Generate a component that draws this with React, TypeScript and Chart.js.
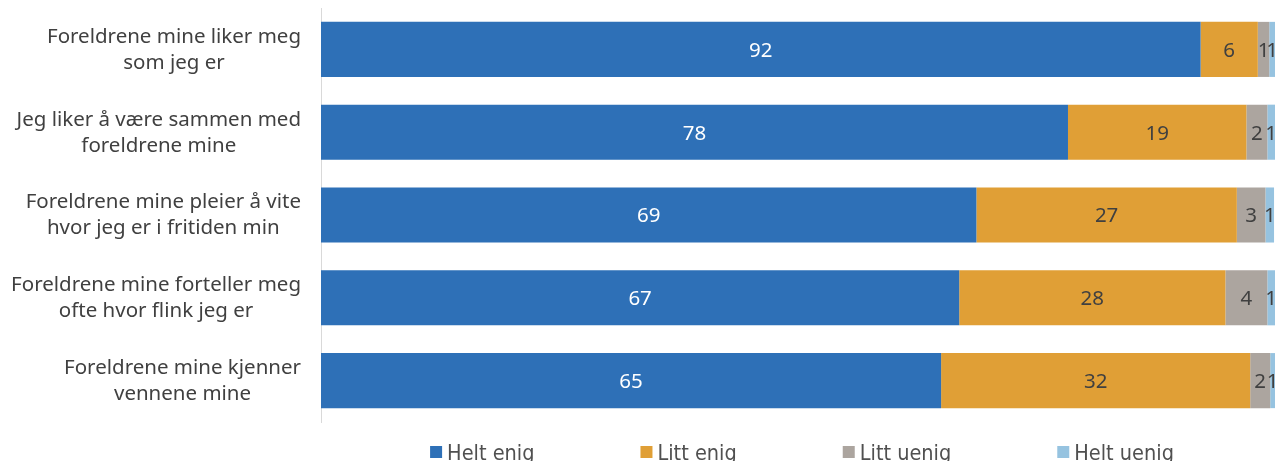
import { useEffect, useRef } from "react";
import { Chart, registerables } from "chart.js";

Chart.register(...registerables);

const categories: string[][] = [
  ["Foreldrene mine liker meg", "som jeg er"],
  ["Jeg liker å være sammen med", "foreldrene mine"],
  ["Foreldrene mine pleier å vite", "hvor jeg er i fritiden min"],
  ["Foreldrene mine forteller meg", "ofte hvor flink jeg er"],
  ["Foreldrene mine kjenner", "vennene mine"],
];
const seriesNames = ["Helt enig", "Litt enig", "Litt uenig", "Helt uenig"];
const heltEnig = [92.2, 78.3, 68.7, 66.9, 65.0];
const littEnig = [6.0, 18.7, 27.3, 27.9, 32.4];
const littUenig = [1.2, 2.2, 3.0, 4.4, 2.1];
const heltUenig = [0.6, 0.8, 0.9, 0.8, 0.5];
const seriesColors = ["#2e70b7", "#e09f36", "#aca59f", "#96c3e0"];
const labelColors = ["#ffffff", "#404040", "#404040", "#404040"];

const LABEL_FONT = '20.5px "Noto Sans", sans-serif';
const VALUE_FONT = '20.5px "Noto Sans", sans-serif';
const LEGEND_FONT = '21.5px "Liberation Sans Narrow", "DejaVu Sans Condensed", sans-serif';

const categoryLabelsPlugin = {
  id: "categoryLabels",
  afterDraw(chart: any) {
    const ctx = chart.ctx;
    const yScale = chart.scales.y;
    const right = chart.chartArea.left - 20;
    ctx.save();
    ctx.font = LABEL_FONT;
    ctx.fillStyle = "#404040";
    ctx.textBaseline = "middle";
    ctx.textAlign = "center";
    const lh = 26;
    categories.forEach((lines, i) => {
      const cy = yScale.getPixelForValue(i) + 0.5;
      const widest = Math.max(...lines.map((l) => ctx.measureText(l).width));
      const cx = right - widest / 2;
      lines.forEach((l, j) => {
        ctx.fillText(l, cx, cy + (j - (lines.length - 1) / 2) * lh);
      });
    });
    ctx.restore();
  },
};

const valueLabelsPlugin = {
  id: "valueLabels",
  afterDatasetsDraw(chart: any) {
    const ctx = chart.ctx;
    ctx.save();
    ctx.font = VALUE_FONT;
    ctx.textBaseline = "middle";
    ctx.textAlign = "center";
    chart.data.datasets.forEach((ds: any, di: number) => {
      const meta = chart.getDatasetMeta(di);
      ctx.fillStyle = labelColors[di];
      meta.data.forEach((el: any, i: number) => {
        const v = ds.data[i];
        const { x, base, y } = el.getProps(["x", "base", "y"], true);
        ctx.fillText(String(Math.round(v)), (x + base) / 2, y + 1.5);
      });
    });
    ctx.restore();
  },
};

const legendPlugin = {
  id: "customLegend",
  afterDraw(chart: any) {
    const ctx = chart.ctx;
    const area = chart.chartArea;
    const box = 12;
    const boxGap = 5;
    const itemGap = 106;
    ctx.save();
    ctx.font = LEGEND_FONT;
    ctx.textBaseline = "alphabetic";
    ctx.textAlign = "left";
    const widths = seriesNames.map((n) => box + boxGap + ctx.measureText(n).width);
    const total = widths.reduce((a, b) => a + b, 0) + itemGap * (seriesNames.length - 1);
    let x = (area.left + area.right) / 2 + 4 - total / 2;
    const cy = 452;
    seriesNames.forEach((n, i) => {
      ctx.fillStyle = seriesColors[i];
      ctx.fillRect(x, cy - box / 2, box, box);
      ctx.fillStyle = "#505050";
      ctx.fillText(n, x + box + boxGap, cy + 8);
      x += widths[i] + itemGap;
    });
    ctx.restore();
  },
};

export default function App() {
  const ref = useRef<HTMLCanvasElement | null>(null);
  useEffect(() => {
    document.body.style.margin = "0";
    if (!ref.current) return;
    const seriesData = [heltEnig, littEnig, littUenig, heltUenig];
    const chart = new Chart(ref.current, {
      type: "bar",
      data: {
        labels: categories.map((c) => c.join(" ")),
        datasets: seriesNames.map((name, i) => ({
          label: name,
          data: seriesData[i],
          backgroundColor: seriesColors[i],
          borderWidth: 0,
          categoryPercentage: 1,
          barPercentage: 0.665,
        })),
      },
      options: {
        indexAxis: "y",
        animation: false,
        responsive: false,
        layout: { padding: { left: 313, right: 1, top: 8, bottom: 39 } },
        plugins: {
          legend: { display: false },
          tooltip: { enabled: false },
        },
        scales: {
          x: { stacked: true, min: 0, max: 100, display: false },
          y: {
            stacked: true,
            grid: { display: false },
            ticks: { display: false },
            border: { display: true, color: "#d9d9d9", width: 1 },
          },
        },
      },
      plugins: [valueLabelsPlugin, categoryLabelsPlugin, legendPlugin],
    });
    return () => chart.destroy();
  }, []);
  return (
    <div style={{ width: 1276, height: 461 }}>
      <canvas ref={ref} width={1276} height={461} />
    </div>
  );
}
